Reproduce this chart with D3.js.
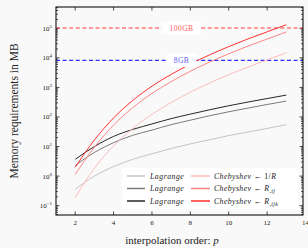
<!DOCTYPE html>
<html>
<head>
<meta charset="utf-8">
<script src="https://cdn.jsdelivr.net/npm/d3@7"></script>
<style>
  body { margin: 0; background: #f9f9f9; }
  svg { display: block; font-family: "Liberation Serif", "DejaVu Serif", serif; }
</style>
</head>
<body>
<div id="chart"></div>
<script>
// interpolation order p
var orders = [2, 3, 4, 5, 6, 7, 8, 9, 10, 11, 12, 13];

// memory in MB
var lagrangeLight = [0.36, 1.0, 2.1, 3.7, 5.7, 8.6, 12.3, 17, 23.5, 31, 41, 55];
var lagrangeMid   = [2.3, 6.3, 13.5, 24, 36, 55, 78, 110, 150, 200, 265, 345];
var lagrangeDark  = [3.7, 10, 22, 38, 58, 88, 125, 175, 240, 320, 420, 550];
var chebR         = [0.19, 1.86, 10.5, 41, 123, 309, 692, 1410, 2690, 4900, 8500, 14800];
var chebRij       = [1.14, 9.5, 53, 207, 627, 1570, 3520, 7200, 13700, 24900, 43300, 75000];
var chebRijk      = [2.0, 16.6, 93, 363, 1100, 2750, 6170, 12600, 24000, 43600, 75900, 132000];

// memory limits in MB
var limitNames = ["100GB", "8GB"];
var limitValues = [102400, 8192];

var xTicks = [2, 4, 6, 8, 10, 12, 14];
var yExponents = [-1, 0, 1, 2, 3, 4, 5];

var width = 308, height = 248,
  margins = {top: 7, left: 56, right: 5, bottom: 33};

var svg = d3.select("#chart").append("svg")
  .attr("width", width)
  .attr("height", height);

var x = d3.scaleLinear()
  .domain([1, 13.87])
  .range([margins.left, width - margins.right]);

var y = d3.scaleLog()
  .domain([0.0484, 5.25e5])
  .range([height - margins.bottom, margins.top]);

var x0 = x.range()[0], x1 = x.range()[1],
  yb = y.range()[0], yt = y.range()[1];

// minor ticks of the log axis
var minors = [];
for (var e = -2; e <= 5; e++) {
  for (var m = 2; m <= 9; m++) {
    var v = m * Math.pow(10, e);
    if (v >= y.domain()[0] && v <= y.domain()[1]) minors.push(v);
  }
}
var majors = yExponents.map(function (k) { return Math.pow(10, k); });
var xIn = xTicks.filter(function (t) { return t >= x.domain()[0] && t <= x.domain()[1]; });

var ticks = svg.append("g").attr("class", "ticks")
  .attr("stroke", "#222").attr("stroke-width", 0.8);

ticks.selectAll("line.ymin").data(minors).enter().append("line")
  .attr("x1", x0).attr("x2", x0 + 2)
  .attr("y1", function (d) { return y(d); }).attr("y2", function (d) { return y(d); });
ticks.selectAll("line.ymin2").data(minors).enter().append("line")
  .attr("x1", x1).attr("x2", x1 - 2)
  .attr("y1", function (d) { return y(d); }).attr("y2", function (d) { return y(d); });
ticks.selectAll("line.ymaj").data(majors).enter().append("line")
  .attr("x1", x0).attr("x2", x0 + 3.5)
  .attr("y1", function (d) { return y(d); }).attr("y2", function (d) { return y(d); });
ticks.selectAll("line.ymaj2").data(majors).enter().append("line")
  .attr("x1", x1).attr("x2", x1 - 3.5)
  .attr("y1", function (d) { return y(d); }).attr("y2", function (d) { return y(d); });
ticks.selectAll("line.xmaj").data(xIn).enter().append("line")
  .attr("x1", function (d) { return x(d); }).attr("x2", function (d) { return x(d); })
  .attr("y1", yb).attr("y2", yb - 3.5);
ticks.selectAll("line.xmaj2").data(xIn).enter().append("line")
  .attr("x1", function (d) { return x(d); }).attr("x2", function (d) { return x(d); })
  .attr("y1", yt).attr("y2", yt + 3.5);

// tick labels
svg.append("g").selectAll("text").data(xTicks).enter().append("text")
  .attr("x", function (d) { return x(d); })
  .attr("y", yb + 10)
  .attr("text-anchor", "middle")
  .attr("font-size", 7)
  .attr("fill", "#222")
  .text(function (d) { return d; });

var yl = svg.append("g").selectAll("text").data(yExponents).enter().append("text")
  .attr("x", x0 - 4)
  .attr("y", function (d) { return y(Math.pow(10, d)) + 2.5; })
  .attr("text-anchor", "end")
  .attr("font-size", 7)
  .attr("fill", "#222");
yl.append("tspan").text("10");
yl.append("tspan").attr("dy", -3).attr("font-size", 5)
  .text(function (d) { return d < 0 ? "\u2212" + (-d) : d; });

// memory limits
var limitColors = ["#ff3b3b", "#2f2fff"];
var limitText = ["#ff5a5a", "#5a5aff"];
svg.append("g").selectAll("line").data(limitValues).enter().append("line")
  .attr("x1", x0).attr("x2", x1)
  .attr("y1", function (d) { return y(d); }).attr("y2", function (d) { return y(d); })
  .attr("stroke", function (d, i) { return limitColors[i]; })
  .attr("stroke-width", 1.2)
  .attr("stroke-dasharray", "4,2.6");

var series = [
  {vals: lagrangeLight, color: "#c4c4c4"},
  {vals: lagrangeMid, color: "#7a7a7a"},
  {vals: lagrangeDark, color: "#262626"},
  {vals: chebR, color: "#ffbcbc"},
  {vals: chebRij, color: "#ff8585"},
  {vals: chebRijk, color: "#ff3030"}
];

var line = d3.line()
  .x(function (d) { return x(d[0]); })
  .y(function (d) { return y(d[1]); })
  .curve(d3.curveMonotoneX);

svg.append("g").selectAll("path").data(series).enter().append("path")
  .attr("d", function (s) { return line(orders.map(function (p, i) { return [p, s.vals[i]]; })); })
  .attr("fill", "none")
  .attr("stroke", function (s) { return s.color; })
  .attr("stroke-width", 1);

// limit labels on white boxes
var lab = svg.append("g").selectAll("g").data(limitValues).enter().append("g")
  .attr("transform", function (d) { return "translate(" + ((x0 + x1) / 2) + "," + y(d) + ")"; });
lab.append("rect")
  .attr("x", function (d, i) { return i == 0 ? -18 : -13; })
  .attr("width", function (d, i) { return i == 0 ? 39 : 30; })
  .attr("y", -6.5).attr("height", 13)
  .attr("fill", "#fff");
lab.append("text")
  .attr("x", 2)
  .attr("y", 2.7)
  .attr("text-anchor", "middle")
  .attr("font-size", 7.5)
  .attr("letter-spacing", 0.5)
  .attr("fill", function (d, i) { return limitText[i]; })
  .text(function (d, i) { return limitNames[i]; });

// frame
svg.append("rect")
  .attr("x", x0).attr("y", yt)
  .attr("width", x1 - x0).attr("height", yb - yt)
  .attr("fill", "none")
  .attr("stroke", "#111")
  .attr("stroke-width", 1.1);

// legend
var legend = svg.append("g").attr("transform", "translate(122,168)");
legend.append("rect")
  .attr("width", 176).attr("height", 41)
  .attr("rx", 2)
  .attr("fill", "#fff")
  .attr("fill-opacity", 0.9);

var rows = [0, 1, 2];
rows.forEach(function (r) {
  var ry = 8 + r * 12.5;
  legend.append("line")
    .attr("x1", 5).attr("x2", 23).attr("y1", ry).attr("y2", ry)
    .attr("stroke", series[r].color).attr("stroke-width", 1.5);
  legend.append("text")
    .attr("x", 28).attr("y", ry + 2.5)
    .attr("font-size", 7.8).attr("letter-spacing", 0.5)
    .attr("font-style", "italic").attr("fill", "#222")
    .text("Lagrange");
  legend.append("line")
    .attr("x1", 69).attr("x2", 88).attr("y1", ry).attr("y2", ry)
    .attr("stroke", series[r + 3].color).attr("stroke-width", 1.5);
  var t = legend.append("text")
    .attr("x", 92).attr("y", ry + 2.5)
    .attr("font-size", 7.8).attr("letter-spacing", 0.4).attr("fill", "#222");
  t.append("tspan").attr("font-style", "italic").text("Chebyshev ");
  t.append("tspan").text("\u2190 ");
  if (r == 0) {
    t.append("tspan").text("1/");
    t.append("tspan").attr("font-style", "italic").text("R");
  } else {
    t.append("tspan").attr("font-style", "italic").text("R");
    t.append("tspan").attr("dy", 2).attr("font-size", 5.8).attr("font-style", "italic")
      .text(r == 1 ? ",ij" : ",ijk");
  }
});

// axis titles
svg.append("text")
  .attr("transform", "translate(18," + ((yt + yb) / 2) + ") rotate(-90)")
  .attr("text-anchor", "middle")
  .attr("font-size", 11.5)
  .attr("fill", "#222")
  .text("Memory requirements in MB");

var xt = svg.append("text")
  .attr("x", 172)
  .attr("y", 244)
  .attr("text-anchor", "middle")
  .attr("font-size", 11)
  .attr("fill", "#222");
xt.append("tspan").text("interpolation order: ");
xt.append("tspan").attr("font-style", "italic").text("p");
</script>
</body>
</html>
